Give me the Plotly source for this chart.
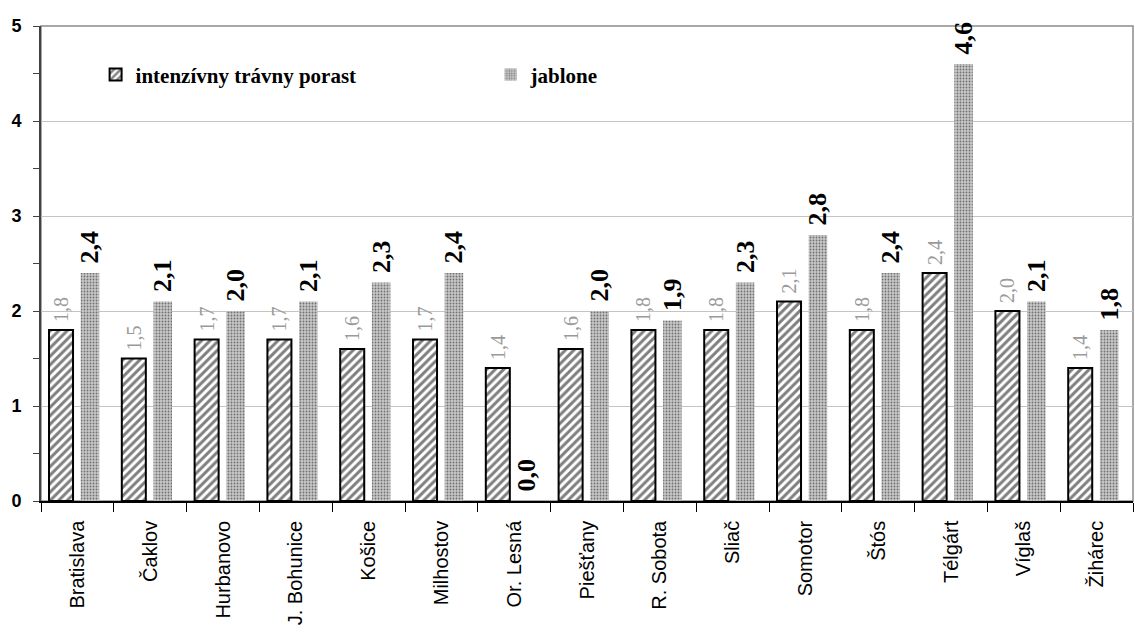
import plotly.graph_objects as go

# Stations and the two series shown per station
stations = ["Bratislava", "Čaklov", "Hurbanovo", "J. Bohunice", "Košice", "Milhostov",
            "Or. Lesná", "Piešťany", "R. Sobota", "Sliač", "Somotor", "Štós",
            "Télgárt", "Víglaš", "Žihárec"]
trava = [1.8, 1.5, 1.7, 1.7, 1.6, 1.7, 1.4, 1.6, 1.8, 1.8, 2.1, 1.8, 2.4, 2.0, 1.4]
jablone = [2.4, 2.1, 2.0, 2.1, 2.3, 2.4, 0.0, 2.0, 1.9, 2.3, 2.8, 2.4, 4.6, 2.1, 1.8]

NBSP = "\u00a0"

fig = go.Figure()

fig.add_bar(
    x=stations, y=trava, name="intenzívny trávny porast",
    width=0.33, offset=-0.39,
    marker=dict(color="white",
                pattern=dict(shape="/", fgcolor="black", bgcolor="white", size=6, solidity=0.5),
                line=dict(color="black", width=2)),
    texttemplate=NBSP + "%{y:.1f}", textposition="outside", textangle=-90,
    textfont=dict(family="Liberation Serif", size=20, color="#9a9a9a"),
    constraintext="none", cliponaxis=False,
)

fig.add_bar(
    x=stations, y=jablone, name="jablone",
    width=0.255, offset=0.045,
    marker=dict(color="#a8a8a8",
                pattern=dict(shape=".", fgcolor="#1a1a1a", bgcolor="#c8c8c8", size=3, solidity=0.3),
                line=dict(width=0)),
    texttemplate=NBSP + "%{y:.1f}", textposition="outside", textangle=-90,
    textfont=dict(family="Liberation Serif", size=26, color="black", weight="bold"),
    constraintext="none", cliponaxis=False,
)

# thin grey frame around the plotting area
fig.add_shape(type="rect", xref="paper", yref="paper", x0=0, y0=0, x1=1, y1=1,
              line=dict(color="#8c8c8c", width=1.5), layer="below")

fig.update_layout(
    width=1135, height=632,
    margin=dict(l=41, r=2, t=26, b=131),
    paper_bgcolor="white", plot_bgcolor="white",
    barmode="overlay",
    separators=", ",
    showlegend=True,
    legend=dict(orientation="h", x=0.05, y=0.897, xanchor="left", yanchor="middle",
                bgcolor="rgba(0,0,0,0)", entrywidth=350,
                font=dict(family="Liberation Serif", size=21, color="black", weight="bold")),
    xaxis=dict(type="category", categoryorder="array", categoryarray=stations,
               tickson="boundaries", ticks="outside", ticklen=9, tickcolor="black",
               tickangle=-90, ticklabelstandoff=10,
               tickfont=dict(family="Liberation Sans", size=20, color="black"),
               showline=True, linecolor="black", linewidth=1.5, showgrid=False,
               range=[-0.5, 14.5]),
    yaxis=dict(range=[0, 5], dtick=1, showgrid=True, gridcolor="#c4c4c4", gridwidth=1,
               ticks="outside", ticklen=6, tickcolor="#404040", ticklabelstandoff=8,
               minor=dict(dtick=0.5, ticks="outside", ticklen=6, tickcolor="#404040", showgrid=False),
               showline=True, linecolor="#404040", linewidth=2, zeroline=False,
               tickfont=dict(family="Liberation Sans", size=18, color="black", weight="bold")),
)

fig.write_html("out.html")
